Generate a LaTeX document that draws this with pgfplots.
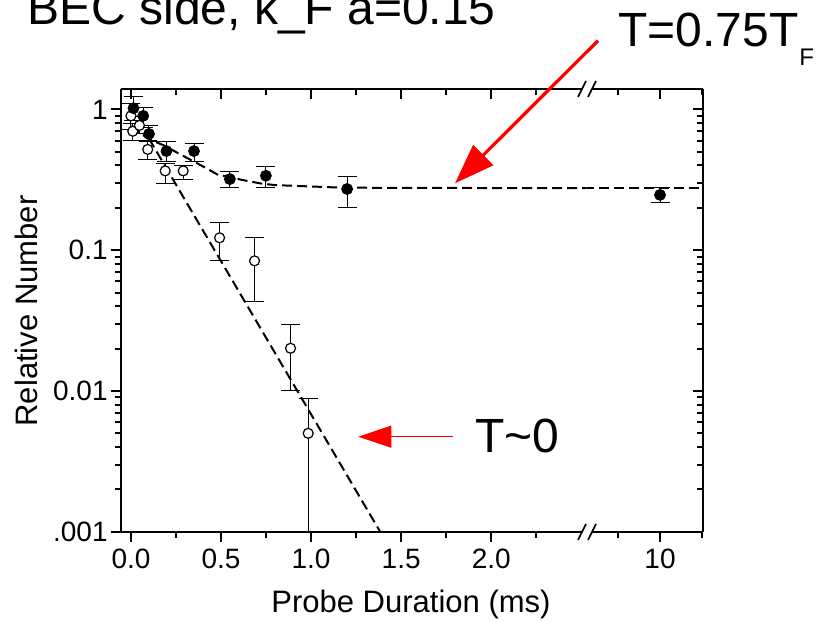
\documentclass[border=0pt]{standalone}
\usepackage{fontspec}
\setmainfont{Liberation Sans}
\usepackage{pgfplots}
\usepackage{pgfplotstable}
\pgfplotsset{compat=1.18}
\usetikzlibrary{arrows.meta}

\pgfplotstableread{
t v ep em
0.014 1.02 0.21 0.18
0.068 0.90 0.14 0.15
0.100 0.67 0.10 0.08
0.197 0.506 0.083 0.082
0.350 0.506 0.067 0.076
0.549 0.320 0.040 0.043
0.749 0.338 0.053 0.059
1.200 0.272 0.060 0.071
}\filledA

\pgfplotstableread{
t v ep em
10 0.247 0.030 0.030
}\filledB

\pgfplotstableread{
t v ep em
0.000 0.90 0.20 0.18
0.010 0.70 0.10 0.10
0.047 0.77 0.12 0.10
0.093 0.52 0.08 0.08
0.190 0.366 0.044 0.066
0.290 0.366 0.031 0.046
0.492 0.1225 0.035 0.0375
0.686 0.084 0.039 0.0405
0.886 0.0201 0.0096 0.0101
0.984 0.0050 0.0039 0.00499
}\openA

\pgfplotstableread{
t v
0.00 0.76
0.05 0.68
0.10 0.615
0.19 0.55
0.26 0.49
0.39 0.40
0.48 0.345
0.62 0.315
0.72 0.298
0.80 0.290
1.11 0.280
1.40 0.277
2.60 0.276
}\fitHot

\pgfplotstableread{
t v
8.20 0.276
11.10 0.276
}\fitHotB

\pgfplotstableread{
t v
0.10 0.62
1.40 0.00092
}\fitCold

\pgfplotsset{
  every axis/.append style={
    scale only axis, height=221.2pt,
    enlargelimits=false,
    axis line style={line width=1pt},
    major tick length=5pt, minor tick length=3pt,
    tick style={line width=1pt, black},
    tick label style={font=\fontsize{14}{14}\selectfont},
  },
}

\begin{document}
\begin{tikzpicture}
\path[use as bounding box] (0,0) rectangle (408pt,311pt);

% left segment
\begin{axis}[at={(60.35pt,45.15pt)}, anchor=south west, width=233pt,
  ymode=log, ymin=0.001, ymax=1.39,
  xmin=-0.057, xmax=2.53,
  axis x line*=bottom, axis y line*=left, tick align=outside,
  x axis line style={-}, y axis line style={-},
  xtick={0,0.5,1,1.5,2}, xticklabels={0.0,0.5,1.0,1.5,2.0},
  minor xtick={0.25,0.75,1.25,1.75,2.25},
  ytick={0.001,0.01,0.1,1}, yticklabels={.001,0.01,0.1,1},
  yticklabel style={xshift=2pt},
  minor ytick={0.002,0.003,0.004,0.005,0.006,0.007,0.008,0.009,0.02,0.03,0.04,0.05,0.06,0.07,0.08,0.09,0.2,0.3,0.4,0.5,0.6,0.7,0.8,0.9}]
\addplot[black, line width=1pt, dash pattern=on 5pt off 2.5pt, no marks] table[x=t,y=v]{\fitHot};
\addplot[black, line width=1pt, dash pattern=on 5pt off 2.5pt, no marks] table[x=t,y=v]{\fitCold};
\addplot[only marks, mark=*, mark size=2.5pt, mark options={fill=white, draw=black, line width=0.6pt},
  error bars/y dir=both, error bars/y explicit,
  error bars/error bar style={line width=0.5pt, black},
  error bars/error mark options={rotate=90, mark size=4.75pt, line width=0.5pt, black}]
  table[x=t, y=v, y error plus=ep, y error minus=em]{\openA};
\addplot[only marks, mark=*, mark size=2.75pt, mark options={fill=black, draw=black},
  error bars/y dir=both, error bars/y explicit,
  error bars/error bar style={line width=0.5pt, black},
  error bars/error mark options={rotate=90, mark size=4.75pt, line width=0.5pt, black}]
  table[x=t, y=v, y error plus=ep, y error minus=em]{\filledA};
\end{axis}

\begin{axis}[at={(60.35pt,45.15pt)}, anchor=south west, width=233pt,
  ymode=log, ymin=0.001, ymax=1.39,
  xmin=-0.057, xmax=2.53,
  axis x line*=top, axis y line*=left, y axis line style={draw=none},
  x axis line style={-},
  ytick=\empty, tick align=inside,
  xtick={0,0.5,1,1.5,2}, xticklabels={},
  minor xtick={0.25,0.75,1.25,1.75,2.25}]
\addplot[draw=none, no marks] coordinates {(1,0.1) (1.5,0.1)};
\end{axis}

% right segment
\begin{axis}[at={(293.35pt,45.15pt)}, anchor=south west, width=58.3pt,
  ymode=log, ymin=0.001, ymax=1.39,
  xmin=8.255, xmax=11.03,
  axis x line*=bottom, axis y line*=right, y axis line style={draw=none},
  x axis line style={-},
  ytick=\empty, tick align=outside,
  xtick={10}, xticklabels={10}, minor xtick={9,11}]
\addplot[black, line width=1pt, dash pattern=on 5pt off 2.5pt, no marks] table[x=t,y=v]{\fitHotB};
\addplot[only marks, mark=*, mark size=2.75pt, mark options={fill=black, draw=black},
  error bars/y dir=both, error bars/y explicit,
  error bars/error bar style={line width=0.5pt, black},
  error bars/error mark options={rotate=90, mark size=4.75pt, line width=0.5pt, black}]
  table[x=t, y=v, y error plus=ep, y error minus=em]{\filledB};
\end{axis}

\begin{axis}[at={(293.35pt,45.15pt)}, anchor=south west, width=58.3pt,
  ymode=log, ymin=0.001, ymax=1.39,
  xmin=8.255, xmax=11.03,
  axis x line*=top, axis y line*=right,
  x axis line style={-}, y axis line style={-},
  tick align=inside,
  xtick={10}, xticklabels={}, minor xtick={9,11},
  ytick={0.001,0.01,0.1,1}, yticklabels={},
  minor ytick={0.002,0.003,0.004,0.005,0.006,0.007,0.008,0.009,0.02,0.03,0.04,0.05,0.06,0.07,0.08,0.09,0.2,0.3,0.4,0.5,0.6,0.7,0.8,0.9}]
\addplot[draw=none, no marks] coordinates {(9,0.1) (10,0.1)};
\end{axis}

\begin{scope}[shift={(0pt,311pt)}, x=0.5pt, y=-0.5pt]
  % axis break marks
  \fill[white] (582,85) rectangle (592,94);
  \fill[white] (582,527) rectangle (592,536);
  \draw[line width=0.8pt] (578,97) -- (586,81) (588,97) -- (596,81);
  \draw[line width=0.8pt] (578,540) -- (586,524) (588,540) -- (596,524);
  % labels
  \node[anchor=base, font=\fontsize{15.5}{15.5}\selectfont] at (411,613) {Probe Duration (ms)};
  \node[anchor=base, rotate=90, font=\fontsize{15.5}{15.5}\selectfont] at (38,311) {Relative Number};
  % annotations
  \node[anchor=base west, inner sep=0pt, font=\fontsize{24}{24}\selectfont] at (27,25) {BEC side, k\_F a=0.15};
  \node[anchor=base west, inner sep=0pt, font=\fontsize{24}{24}\selectfont] at (618,46.7) {T=0.75T};
  \node[anchor=base west, inner sep=0pt, font=\fontsize{12}{12}\selectfont] at (799,66) {F};
  \node[anchor=base west, inner sep=0pt, font=\fontsize{24}{24}\selectfont] at (475,453) {T\textasciitilde0};
  \draw[red, line width=1.65pt, -{Triangle[length=20pt,width=14pt]}] (598,40.7) -- (455,183.3);
  \draw[red, line width=0.5pt, -{Triangle[length=16.5pt,width=11pt]}] (453,436.7) -- (358.3,436.7);
\end{scope}
\end{tikzpicture}
\end{document}
